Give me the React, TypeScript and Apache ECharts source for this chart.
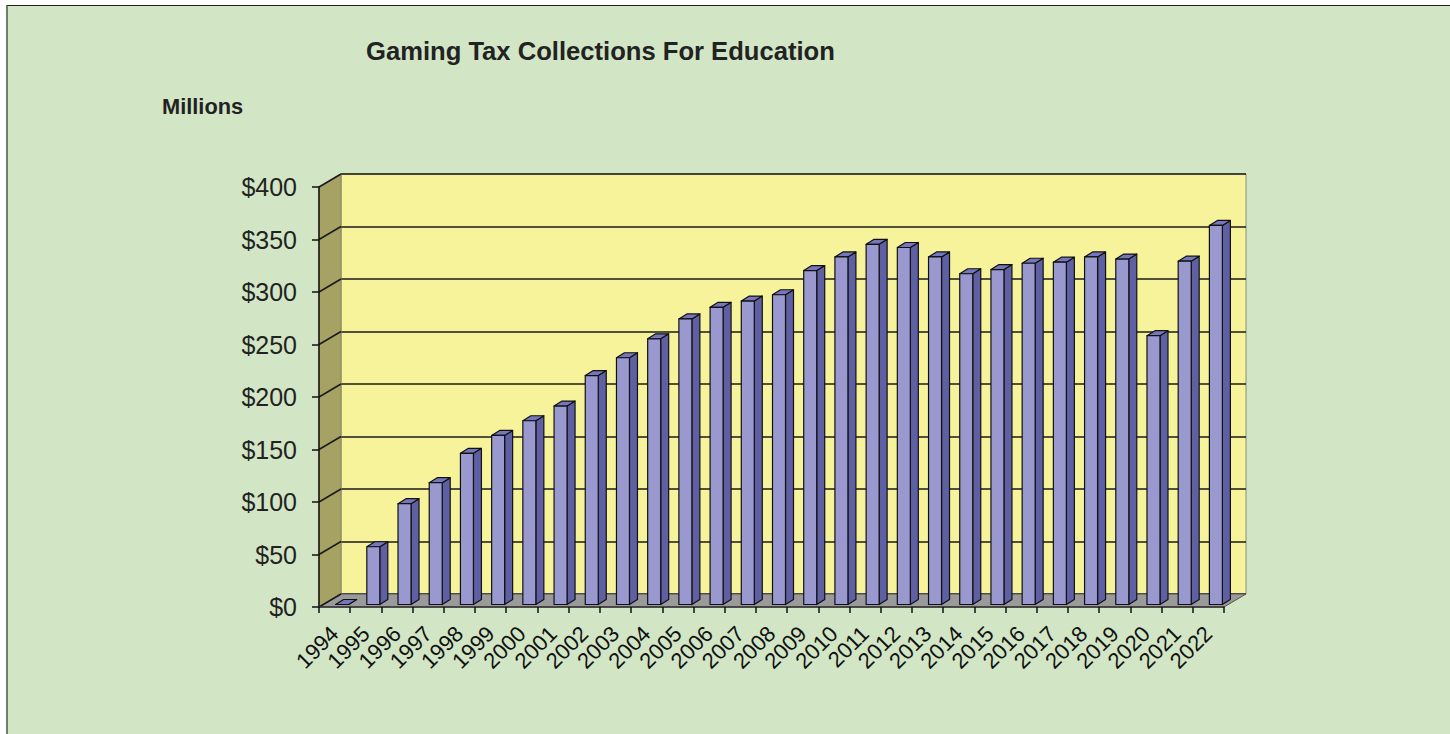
import React, { useEffect, useRef } from "react";
import * as echarts from "echarts";

const years = [
  "1994", "1995", "1996", "1997", "1998", "1999", "2000", "2001", "2002", "2003",
  "2004", "2005", "2006", "2007", "2008", "2009", "2010", "2011", "2012", "2013",
  "2014", "2015", "2016", "2017", "2018", "2019", "2020", "2021", "2022",
];
const collections = [
  0, 55, 96, 116, 144, 161, 175, 189, 218, 235,
  253, 272, 283, 289, 295, 318, 331, 343, 340, 331,
  315, 319, 325, 326, 331, 329, 256, 327, 361,
];
const yTicks = [0, 50, 100, 150, 200, 250, 300, 350, 400];
const titleText = "Gaming Tax Collections For Education";
const unitText = "Millions";

// layout / style constants
const DX = 22;
const DY = -13;
const BAR_OX = 7.5;
const BAR_OY = -2.5;
const BAR_W = 13;
const SD_X = 8;
const SD_Y = -5;
const FONT = "'Liberation Sans', Arial, sans-serif";

export default function App() {
  const ref = useRef<HTMLDivElement>(null);

  useEffect(() => {
    if (!ref.current) return;
    const chart = echarts.init(ref.current, undefined, { renderer: "svg" });

    const renderWalls = (params: any, api: any) => {
      const cs = params.coordSys;
      const xl = cs.x;
      const xr = cs.x + cs.width;
      const y0 = api.coord([0, 0])[1];
      const yTop = api.coord([0, yTicks[yTicks.length - 1]])[1];
      const children: any[] = [
        {
          type: "polygon",
          shape: { points: [[xl, yTop], [xl + DX, yTop + DY], [xl + DX, y0 + DY], [xl, y0]] },
          style: { fill: "#a6a264", stroke: "#8a875a", lineWidth: 1 },
        },
        {
          type: "polygon",
          shape: { points: [[xl, y0], [xr, y0], [xr + DX, y0 + DY], [xl + DX, y0 + DY]] },
          style: { fill: "#9a9a9a", stroke: "#555", lineWidth: 1 },
        },
      ];
      yTicks.forEach((v) => {
        const y = api.coord([0, v])[1];
        children.push({
          type: "line",
          shape: { x1: xl, y1: y, x2: xl + DX, y2: y + DY },
          style: { stroke: "#1a1a1a", lineWidth: 1.5 },
        });
      });
      return { type: "group", children };
    };

    const renderBar = (params: any, api: any) => {
      const idx = api.value(0);
      const v = api.value(1);
      const top = api.coord([idx, v]);
      const base = api.coord([idx, 0]);
      const cx = top[0] + BAR_OX;
      const x0 = cx - BAR_W / 2;
      const x1 = cx + BAR_W / 2;
      const yt = top[1] + BAR_OY;
      const yb = base[1] + BAR_OY;
      const stroke = { stroke: "#111", lineWidth: 1.2, lineJoin: "round" };
      return {
        type: "group",
        children: [
          {
            type: "polygon",
            shape: { points: [[x1, yt], [x1 + SD_X, yt + SD_Y], [x1 + SD_X, yb + SD_Y], [x1, yb]] },
            style: { fill: "#5f5fa3", ...stroke },
          },
          {
            type: "polygon",
            shape: { points: [[x0, yt], [x1, yt], [x1 + SD_X, yt + SD_Y], [x0 + SD_X, yt + SD_Y]] },
            style: { fill: "#7676bd", ...stroke },
          },
          {
            type: "rect",
            shape: { x: x0, y: yt, width: BAR_W, height: yb - yt },
            style: { fill: "#9999cf", ...stroke },
          },
        ],
      };
    };

    const option: any = {
      animation: false,
      title: [
        {
          text: titleText,
          left: 366,
          top: 38,
          padding: 0,
          textStyle: { fontSize: 25.6, fontWeight: "bold", color: "#222", fontFamily: FONT },
        },
        {
          text: unitText,
          left: 162,
          top: 95,
          padding: 0,
          textStyle: { fontSize: 21.8, fontWeight: "bold", color: "#222", fontFamily: FONT },
        },
      ],
      grid: [
        { left: 319, top: 187, width: 905, height: 420, show: false },
        {
          left: 319 + DX,
          top: 187 + DY,
          width: 905,
          height: 420,
          show: true,
          backgroundColor: "#f7f39b",
          borderColor: "#8c8c7a",
          borderWidth: 1,
        },
      ],
      xAxis: [
        {
          type: "category",
          gridIndex: 0,
          data: years,
          z: 5,
          axisLine: { show: true, lineStyle: { color: "#333", width: 1.5 } },
          axisTick: { show: true, length: 6, lineStyle: { color: "#111", width: 1.5 } },
          axisLabel: {
            rotate: 45,
            margin: 23,
            interval: 0,
            fontSize: 22,
            color: "#111",
            fontFamily: FONT,
          },
        },
        {
          type: "category",
          gridIndex: 1,
          data: years,
          show: false,
        },
      ],
      yAxis: [
        {
          type: "value",
          gridIndex: 0,
          min: 0,
          max: 400,
          interval: 50,
          z: 5,
          axisLine: { show: true, lineStyle: { color: "#111", width: 1.5 } },
          axisTick: { show: true, length: 7, lineStyle: { color: "#111", width: 1.5 } },
          splitLine: { show: false },
          axisLabel: {
            margin: 22,
            fontSize: 25,
            color: "#222",
            fontFamily: FONT,
            formatter: (v: number) => "$" + v,
          },
        },
        {
          type: "value",
          gridIndex: 1,
          min: 0,
          max: 400,
          interval: 50,
          axisLine: { show: false },
          axisTick: { show: false },
          axisLabel: { show: false },
          splitLine: { show: true, lineStyle: { color: "#1a1a1a", width: 1.5 } },
        },
      ],
      series: [
        {
          type: "custom",
          name: "walls",
          xAxisIndex: 0,
          yAxisIndex: 0,
          z: 1,
          silent: true,
          renderItem: renderWalls,
          data: [[0, 0]],
        },
        {
          type: "custom",
          name: "Gaming Tax Collections",
          xAxisIndex: 0,
          yAxisIndex: 0,
          z: 3,
          renderItem: renderBar,
          encode: { x: 0, y: 1 },
          data: collections.map((v, i) => [i, v]),
        },
      ],
    };

    chart.setOption(option);
    return () => chart.dispose();
  }, []);

  return (
    <div style={{ position: "fixed", left: 0, top: 0, width: 1450, height: 734, background: "#ffffff", overflow: "hidden" }}>
      <div
        style={{
          position: "absolute",
          left: 6,
          top: 5,
          right: 0,
          bottom: 0,
          background: "#d2e6c6",
          borderTop: "1px solid #222",
          borderLeft: "2px solid #6f7d6c",
        }}
      />
      <div ref={ref} style={{ position: "absolute", left: 0, top: 0, width: 1450, height: 734 }} />
    </div>
  );
}
